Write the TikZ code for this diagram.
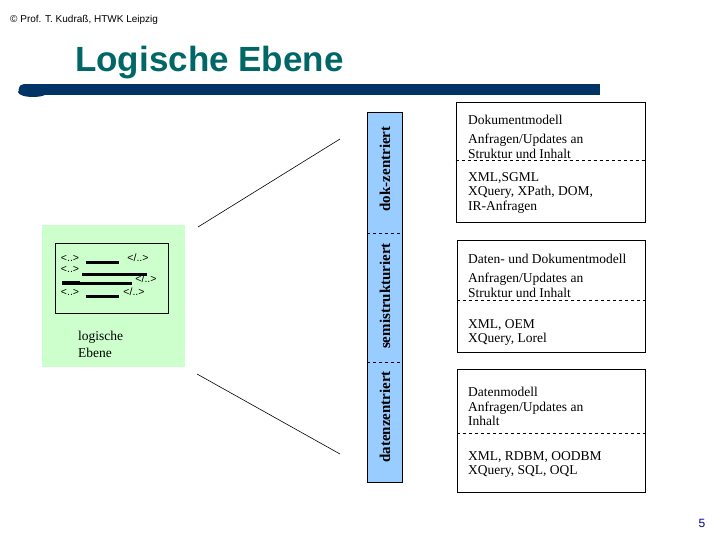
\documentclass[tikz,border=0pt]{standalone}
\usepackage{fontspec}
\setmainfont{Liberation Serif}
\newfontfamily\arialfont{Liberation Sans}
\usetikzlibrary{positioning}
\definecolor{titleteal}{RGB}{0,102,102}
\definecolor{barnavy}{RGB}{0,51,102}
\definecolor{loggreen}{RGB}{204,255,204}
\definecolor{levelblue}{RGB}{153,204,255}
\definecolor{pageblue}{RGB}{0,0,153}
\tikzset{
  levelbox/.style={draw, inner sep=0pt, line width=0.6pt},
  levellabel/.style={rotate=90, inner sep=0pt, font=\fontsize{15}{15}\selectfont\bfseries},
  infotext/.style={anchor=north west, align=left, inner sep=0pt, font=\fontsize{13.5}{14.5}\selectfont},
  tagtext/.style={inner sep=0pt, font=\arialfont\fontsize{10.5}{10.5}\selectfont},
  tagline/.style={line width=3pt},
  fanline/.style={line width=0.6pt},
  sepline/.style={dashed, line width=0.6pt}
}
\begin{document}
\begin{tikzpicture}[x=1pt, y=-1pt]
\useasboundingbox (0,0) rectangle (720,540);

% header and title
\node[anchor=west, inner sep=0pt, font=\arialfont\fontsize{10}{10}\selectfont] (header) at (10,20) {© Prof. T. Kudraß, HTWK Leipzig};
\node[anchor=base west, inner sep=0pt, text=titleteal, font=\arialfont\bfseries\fontsize{35}{35}\selectfont] (title) at (75,72) {Logische Ebene};
\fill[barnavy] (24,84) rectangle (600,95);
\fill[barnavy] (24,89.5) circle[radius=5.5];
\fill[barnavy] (33,92) ellipse[x radius=15, y radius=5];

% logical level (left)
\node[fill=loggreen, minimum width=143, minimum height=142, inner sep=0pt] (logbox) at (113.5,296) {};
\node[draw, line width=0.6pt, minimum width=113, minimum height=70, inner sep=0pt] (tagbox) at (111.5,278) {};
\node[tagtext] (tagA) at (70,258) {<..>};
\node[tagtext] (tagAe) at (138,258) {</..>};
\node[tagtext] (tagB) at (70,269) {<..>};
\node[tagtext] (tagCe) at (146,279) {</..>};
\node[tagtext] (tagD) at (70,292) {<..>};
\node[tagtext] (tagDe) at (134,292) {</..>};
\draw[tagline] (86,262) -- (119,262);
\draw[tagline] (82,274) -- (147,274);
\draw[tagline] (62,283) -- (132,283);
\draw[line width=4pt] (62,283) -- (80,283);
\draw[tagline] (86,296) -- (119,296);
\node[infotext, font=\fontsize{13.5}{17}\selectfont] (loglabel) at (78,331) {logische\\Ebene};

% fan lines
\coordinate (fanAs) at (198,227);
\coordinate (fanAe) at (340,139);
\coordinate (fanBs) at (197,374);
\coordinate (fanBe) at (340,454);
\draw[fanline] (fanAs) -- (fanAe);
\draw[fanline] (fanBs) -- (fanBe);

% level bar
\node[levelbox, fill=levelblue, minimum width=35, minimum height=370] (levelbar) at (384.5,297) {};
\draw[sepline] (levelbar.west |- 0,233) -- (levelbar.east |- 0,233);
\draw[sepline] (levelbar.west |- 0,362) -- (levelbar.east |- 0,362);
\node[levellabel] (dok) at (385,169) {dok-zentriert};
\node[levellabel] (semi) at (385,296) {semistrukturiert};
\node[levellabel] (daten) at (385,417) {datenzentriert};

% model boxes
\node[levelbox, minimum width=189, minimum height=120] (dokbox) at (550.5,162) {};
\node[levelbox, minimum width=188, minimum height=112] (semibox) at (551,296) {};
\node[levelbox, minimum width=188, minimum height=123] (datenbox) at (551,430.5) {};
\draw[sepline] (dokbox.west |- 0,160) -- (dokbox.east |- 0,160);
\draw[sepline] (semibox.west |- 0,300) -- (semibox.east |- 0,300);
\draw[sepline] (datenbox.west |- 0,433) -- (datenbox.east |- 0,433);
\node[infotext] (doktop) at (468,115) {Dokumentmodell\\[4.5pt]Anfragen/Updates an\\Struktur und Inhalt};
\node[infotext] (dokbot) at (468,172) {XML,SGML\\XQuery, XPath, DOM,\\IR-Anfragen};
\node[infotext] (semitop) at (468,254) {Daten- und Dokumentmodell\\[4.5pt]Anfragen/Updates an\\Struktur und Inhalt};
\node[infotext] (semibot) at (468,319) {XML, OEM\\XQuery, Lorel};
\node[infotext] (datentop) at (468,387) {Datenmodell\\Anfragen/Updates an\\Inhalt};
\node[infotext] (datenbot) at (468,451) {XML, RDBM, OODBM\\XQuery, SQL, OQL};

% page number
\node[text=pageblue, inner sep=0pt, font=\arialfont\fontsize{12}{12}\selectfont] (pagenum) at (702,523) {5};
\end{tikzpicture}
\end{document}
